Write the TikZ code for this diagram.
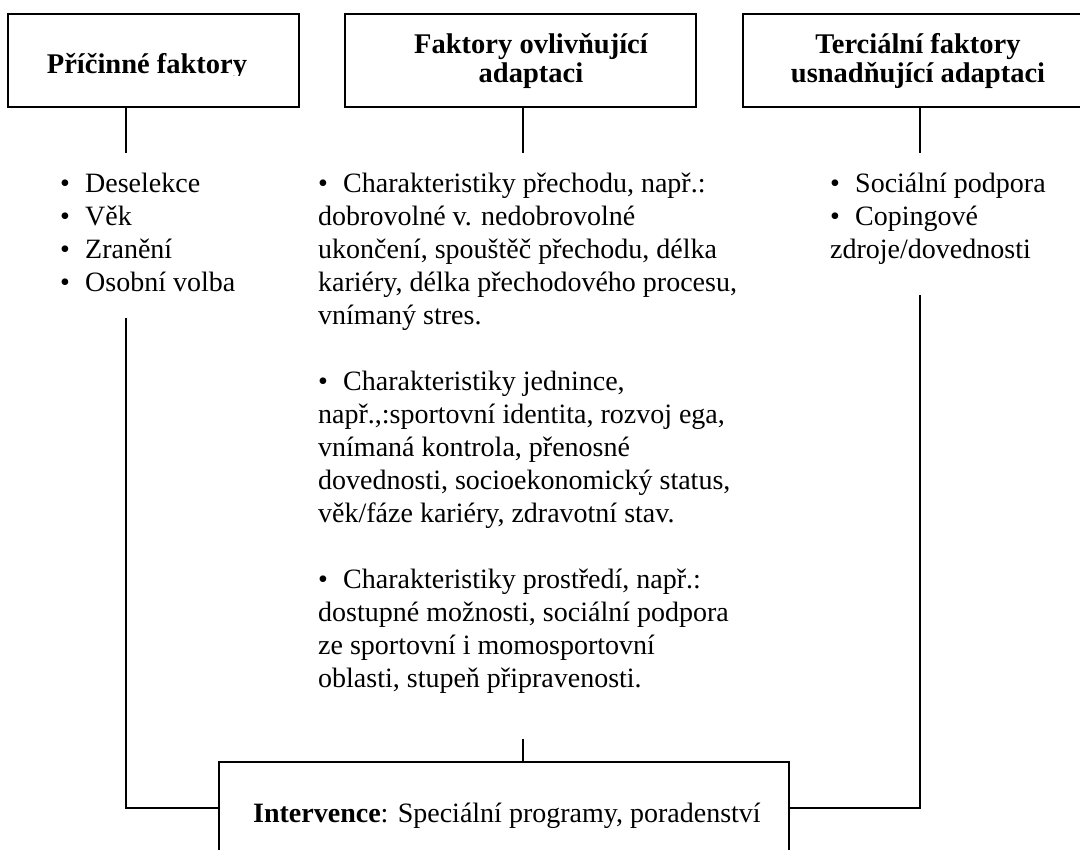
\documentclass[tikz,border=0pt]{standalone}
\usepackage{fontspec}
\setmainfont{Liberation Serif}
\newcommand{\blt}{\makebox[25pt][l]{•}}
\tikzset{
  frame/.style={draw, line width=1.7pt, inner sep=0pt, outer sep=0pt},
  head/.style={inner sep=0pt, font=\fontsize{28.5}{28.5}\selectfont\bfseries, align=center},
  txt/.style={inner sep=0pt, font=\fontsize{28}{33}\selectfont},
  conn/.style={line width=1.7pt},
}
\begin{document}
\begin{tikzpicture}[x=1pt,y=-1pt]
\useasboundingbox (0,0) rectangle (1080,850);
\clip (0,0) rectangle (1080,850);
% header boxes
\node[frame, anchor=north west, minimum width=291pt, minimum height=93pt] (b1) at (8,14) {};
\node[frame, anchor=north west, minimum width=351pt, minimum height=93pt] (b2) at (345,14) {};
\node[frame, anchor=north west, minimum width=352pt, minimum height=93pt] (b3) at (743,14) {};
\begin{scope}
\clip (8,14) rectangle (299,76);
\node[head, anchor=base] (h1) at (147,74) {Příčinné faktory};
\end{scope}
\node[head] (h2) at (531,61) {Faktory ovlivňující\\adaptaci};
\node[head] (h3) at (918,61) {Terciální faktory\\usnadňující adaptaci};
% top connectors
\coordinate (c1) at (126,153);
\coordinate (c2) at (523,153);
\coordinate (c3) at (920,153);
\draw[conn] (c1 |- b1.south) -- (c1);
\draw[conn] (c2 |- b2.south) -- (c2);
\draw[conn] (c3 |- b3.south) -- (c3);
% lists
\node[txt, anchor=base west] (causes) at (60,193) {\parbox[t]{230pt}{\raggedright
\blt Deselekce\\
\blt Věk\\
\blt Zranění\\
\blt Osobní volba}};
\node[txt, anchor=base west] (factors) at (318,193) {\parbox[t]{480pt}{\raggedright
\blt Charakteristiky přechodu, např.:\\
dobrovolné v. nedobrovolné\\
ukončení, spouštěč přechodu, délka\\
kariéry, délka přechodového procesu,\\
vnímaný stres.\\[33pt]
\blt Charakteristiky jednince,\\
např.,:sportovní identita, rozvoj ega,\\
vnímaná kontrola, přenosné\\
dovednosti, socioekonomický status,\\
věk/fáze kariéry, zdravotní stav.\\[33pt]
\blt Charakteristiky prostředí, např.:\\
dostupné možnosti, sociální podpora\\
ze sportovní i momosportovní\\
oblasti, stupeň připravenosti.}};
\node[txt, anchor=base west] (support) at (830,193) {\parbox[t]{240pt}{\raggedright
\blt Sociální podpora\\
\blt Copingové\\
zdroje/dovednosti}};
% bottom box
\node[frame, anchor=north west, minimum width=570pt, minimum height=120pt] (bint) at (219,762) {};
\node[txt, anchor=base west] (itext) at (253,822) {\textbf{Intervence}: Speciální programy, poradenství};
% lower connectors
\coordinate (hy) at (0,808);
\coordinate (j1) at (126,318);
\coordinate (j2) at (523,739);
\coordinate (j3) at (920,295);
\draw[conn] (j1) |- (bint.west |- hy);
\draw[conn] (j3) |- (bint.east |- hy);
\draw[conn] (j2) -- (j2 |- bint.north);
\end{tikzpicture}
\end{document}
